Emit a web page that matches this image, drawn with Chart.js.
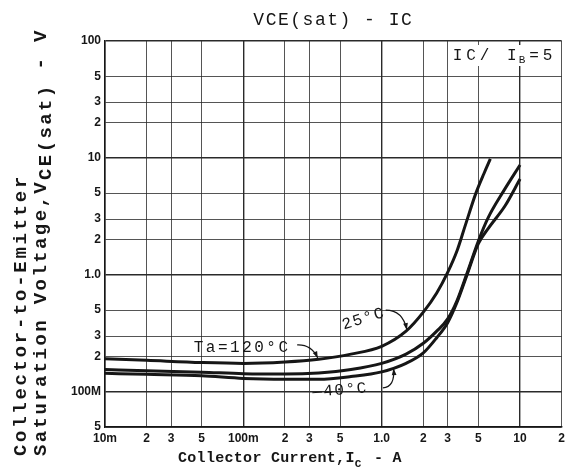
<!DOCTYPE html>
<html>
<head>
<meta charset="utf-8">
<script src="https://cdn.jsdelivr.net/npm/chart.js@4/dist/chart.umd.min.js"></script>
<style>
  html, body { margin: 0; padding: 0; background: #fff; }
  #wrap { width: 569px; height: 476px; }
</style>
</head>
<body>
<div id="wrap"><canvas id="myChart"></canvas></div>
<script>
// tick positions and the labels printed on them
const currentTicks = [0.01, 0.02, 0.03, 0.05, 0.1, 0.2, 0.3, 0.5, 1, 2, 3, 5, 10, 20];
const currentTickLabels = ['10m', '2', '3', '5', '100m', '2', '3', '5', '1.0', '2', '3', '5', '10', '2'];
const voltageTicks = [0.05, 0.1, 0.2, 0.3, 0.5, 1, 2, 3, 5, 10, 20, 30, 50, 100];
const voltageTickLabels = ['5', '100M', '2', '3', '5', '1.0', '2', '3', '5', '10', '2', '3', '5', '100'];

// Ta = 120°C
const ic120 = [0.01, 0.02, 0.05, 0.1, 0.2, 0.35, 0.6, 1.0, 1.5, 2.0, 2.5, 3.0, 3.5, 4.0, 4.8, 5.5, 6.1];
const vce120 = [0.192, 0.186, 0.178, 0.175, 0.18, 0.19, 0.21, 0.245, 0.33, 0.48, 0.7, 1.05, 1.6, 2.6, 5.0, 7.4, 9.8];
// 25°C
const ic25 = [0.01, 0.02, 0.05, 0.1, 0.2, 0.35, 0.6, 1.0, 1.5, 2.0, 2.5, 3.0, 3.5, 4.1, 5.0, 5.9, 7.6, 10];
const vce25 = [0.155, 0.151, 0.147, 0.143, 0.142, 0.145, 0.155, 0.175, 0.21, 0.26, 0.33, 0.42, 0.6, 1.0, 1.95, 3.1, 5.2, 8.7];
// -40°C
const icM40 = [0.01, 0.02, 0.05, 0.1, 0.2, 0.35, 0.6, 1.0, 1.5, 2.0, 2.5, 3.0, 3.5, 4.1, 5.0, 5.9, 7.8, 10];
const vceM40 = [0.144, 0.141, 0.137, 0.13, 0.128, 0.128, 0.135, 0.148, 0.175, 0.215, 0.29, 0.39, 0.58, 0.97, 1.85, 2.5, 3.9, 6.6];

const toPoints = (xs, ys) => xs.map((x, i) => ({ x: x, y: ys[i] }));
const isDecade = v => Math.abs(Math.log10(v) - Math.round(Math.log10(v))) < 1e-6;

const ink = '#161616';
const monoFont = '"Liberation Mono", "DejaVu Sans Mono", monospace';

function curve(label, xs, ys) {
    return {
        label: label,
        data: toPoints(xs, ys),
        borderColor: ink,
        backgroundColor: ink,
        borderWidth: 3,
        pointRadius: 0,
        cubicInterpolationMode: 'monotone',
        fill: false
    };
}

// text, arrows and titles drawn on top
const labelsPlugin = {
    id: 'labels',
    afterDraw(chart) {
        const c = chart.ctx;
        const xs = chart.scales.x, ys = chart.scales.y;
        const area = chart.chartArea;
        const px = v => xs.getPixelForValue(v);
        const py = v => ys.getPixelForValue(v);
        c.save();
        c.fillStyle = ink;
        c.strokeStyle = ink;

        // title
        c.font = '18px ' + monoFont;
        c.letterSpacing = '1.5px';
        c.textAlign = 'center';
        c.textBaseline = 'alphabetic';
        c.fillText('VCE(sat) - IC', (area.left + area.right) / 2, 25);

        // IC / IB = 5
        c.fillStyle = '#fff';
        c.fillRect(area.right - 112, area.top + 4, 110, 21);
        c.fillStyle = ink;
        c.textAlign = 'left';
        c.font = '16px ' + monoFont;
        c.letterSpacing = '4px';
        let tx = area.right - 109;
        const ty = area.top + 19;
        c.fillText('IC/ I', tx, ty);
        tx += c.measureText('IC/ I').width;
        c.font = '11px ' + monoFont;
        c.letterSpacing = '0px';
        c.fillText('B', tx - 2, ty + 3);
        tx += c.measureText('B').width + 2;
        c.font = '16px ' + monoFont;
        c.letterSpacing = '4px';
        c.fillText('=5', tx, ty);

        // x axis title
        c.font = 'bold 15px ' + monoFont;
        c.letterSpacing = '0.3px';
        let ax = 178;
        const ay = 462;
        c.fillText('Collector Current,I', ax, ay);
        ax += c.measureText('Collector Current,I').width;
        c.font = 'bold 11px ' + monoFont;
        c.fillText('C', ax, ay + 5);
        ax += c.measureText('C').width + 3;
        c.font = 'bold 15px ' + monoFont;
        c.fillText(' - A', ax, ay);

        // y axis title (two rotated lines)
        c.save();
        c.rotate(-Math.PI / 2);
        c.font = 'bold 19px ' + monoFont;
        c.letterSpacing = '2.7px';
        c.textAlign = 'left';
        c.fillText('Collector-to-Emitter', -456, 26);
        let ly = -456;
        c.letterSpacing = '2.4px';
        c.fillText('Saturation Voltage,V', ly, 46);
        ly += c.measureText('Saturation Voltage,V').width;
        c.fillText('CE(sat)', ly, 51);
        ly += c.measureText('CE(sat)').width;
        c.fillText(' - V', ly, 46);
        c.restore();

        // curve labels
        c.font = '16px ' + monoFont;
        c.letterSpacing = '2.5px';
        c.textAlign = 'center';
        c.textBaseline = 'middle';
        c.fillText('Ta=120°C', px(0.098), py(0.24));

        c.letterSpacing = '1.5px';
        c.save();
        c.translate(px(0.74), py(0.42));
        c.rotate(-0.3);
        c.fillText('25°C', 0, 0);
        c.restore();

        c.save();
        c.translate(px(0.5), py(0.103));
        c.rotate(-0.08);
        c.fillText('\u201440°C', 0, 0);
        c.restore();

        // arrows
        const arrow = (x0, y0, cx, cy, x1, y1) => {
            c.lineWidth = 1.2;
            c.beginPath();
            c.moveTo(px(x0), py(y0));
            c.quadraticCurveTo(px(cx), py(cy), px(x1), py(y1));
            c.stroke();
            const ang = Math.atan2(py(y1) - py(cy), px(x1) - px(cx));
            c.beginPath();
            c.moveTo(px(x1), py(y1));
            c.lineTo(px(x1) - 7 * Math.cos(ang - 0.35), py(y1) - 7 * Math.sin(ang - 0.35));
            c.lineTo(px(x1) - 7 * Math.cos(ang + 0.35), py(y1) - 7 * Math.sin(ang + 0.35));
            c.closePath();
            c.fill();
        };
        arrow(0.245, 0.252, 0.31, 0.255, 0.345, 0.195);
        arrow(1.07, 0.5, 1.42, 0.5, 1.52, 0.34);
        arrow(1.02, 0.108, 1.25, 0.11, 1.22, 0.158);

        c.restore();
    }
};

const ctx = document.getElementById('myChart').getContext('2d');
const myChart = new Chart(ctx, {
    type: 'line',
    data: {
        datasets: [
            curve('Ta=120°C', ic120, vce120),
            curve('25°C', ic25, vce25),
            curve('-40°C', icM40, vceM40)
        ]
    },
    options: {
        responsive: true,
        maintainAspectRatio: false,
        animation: false,
        layout: {
            padding: { left: 0, right: 5, top: 41, bottom: 0 }
        },
        scales: {
            x: {
                type: 'logarithmic',
                min: 0.01,
                max: 20,
                afterBuildTicks: scale => {
                    scale.ticks = currentTicks.map(v => ({ value: v }));
                },
                afterFit: scale => { scale.height = 49; },
                ticks: {
                    autoSkip: false,
                    maxRotation: 0,
                    padding: 4,
                    color: ink,
                    font: { family: 'Liberation Sans', size: 12, weight: 'bold' },
                    callback: (value, index) => currentTickLabels[index]
                },
                grid: {
                    drawTicks: false,
                    color: '#2a2a2a',
                    lineWidth: c => (c.tick && isDecade(c.tick.value)) ? 1.4 : 0.8
                },
                border: { color: ink, width: 1.5 }
            },
            y: {
                type: 'logarithmic',
                min: 0.05,
                max: 100,
                afterBuildTicks: scale => {
                    scale.ticks = voltageTicks.map(v => ({ value: v }));
                },
                afterFit: scale => { scale.width = 105; },
                ticks: {
                    autoSkip: false,
                    padding: 4,
                    color: ink,
                    font: { family: 'Liberation Sans', size: 12, weight: 'bold' },
                    callback: (value, index) => voltageTickLabels[index]
                },
                grid: {
                    drawTicks: false,
                    color: '#2a2a2a',
                    lineWidth: c => (c.tick && isDecade(c.tick.value)) ? 1.4 : 0.8
                },
                border: { color: ink, width: 1.5 }
            }
        },
        plugins: {
            legend: { display: false },
            title: { display: false },
            tooltip: { enabled: false }
        }
    },
    plugins: [labelsPlugin]
});
</script>
</body>
</html>
